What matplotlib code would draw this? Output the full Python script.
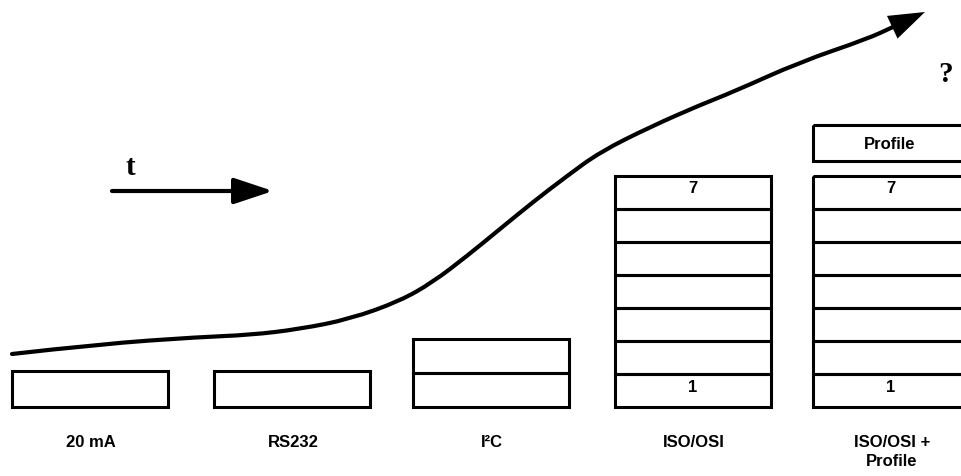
import matplotlib.pyplot as plt
from matplotlib.patches import Rectangle, PathPatch
from matplotlib.path import Path

# stacks: label, number of layers, extra "Profile" box on top
stack_labels = ['20 mA', 'RS232', 'I²C', 'ISO/OSI', 'ISO/OSI +\nProfile']
stack_layers = [1, 1, 2, 7, 7]
stack_profile = [False, False, False, False, True]
layer_numbers = {3: ('7', '1'), 4: ('7', '1')}

# trend curve (pixel coords, y down)
curve_x = [12, 100, 200, 250, 300, 350, 400, 433, 467, 500, 533, 567, 600,
           650, 700, 733, 800, 867, 893]
curve_y = [355, 345, 338, 336, 330, 320, 302, 283, 257, 230, 203, 177, 153,
           128, 106, 93, 63, 40, 28]

W, H = 961, 477
fig = plt.figure(figsize=(W / 100, H / 100), dpi=100)
ax = fig.add_axes([0, 0, 1, 1])
ax.set_xlim(0, W)
ax.set_ylim(H, 0)
ax.axis('off')

lefts = [12, 214, 413, 615, 813]
box_w = 156
bottom = 408
layer_h = [36, 36, 34, 33, 33]
lw = 2.2
sans = ['Liberation Sans', 'DejaVu Sans']
serif = ['Liberation Serif', 'DejaVu Serif']

for i, (lab, n) in enumerate(zip(stack_labels, stack_layers)):
    x0 = lefts[i]
    h = layer_h[i]
    for k in range(n):
        y_top = bottom - (k + 1) * h
        ax.add_patch(Rectangle((x0, y_top), box_w, h, fill=False,
                               ec='black', lw=lw, joinstyle='miter'))
    if i in layer_numbers:
        top_num, bot_num = layer_numbers[i]
        cx = x0 + box_w / 2
        ax.text(cx, bottom - n * h + 12, top_num, ha='center', va='center',
                fontsize=12, fontweight='bold', family=sans)
        ax.text(cx, bottom - 0.5 * h - 4, bot_num, ha='center', va='center',
                fontsize=12, fontweight='bold', family=sans)
    if stack_profile[i]:
        ax.add_patch(Rectangle((x0, 126), box_w, 36, fill=False,
                               ec='black', lw=lw, joinstyle='miter'))
        ax.text(x0 + box_w / 2 - 1, 145, 'Profile', ha='center', va='center',
                fontsize=12, fontweight='bold', family=sans)
    ax.text(x0 + box_w / 2 + 1, 435, lab,
            ha='center', va='top', fontsize=12, fontweight='bold',
            family=sans, linespacing=1.35)

# growth curve, smoothed with quadratic segments through the traced points
pts = list(zip(curve_x, curve_y))
verts = [pts[0]]
codes = [Path.MOVETO]
for k in range(1, len(pts) - 1):
    mid = ((pts[k][0] + pts[k + 1][0]) / 2, (pts[k][1] + pts[k + 1][1]) / 2)
    verts += [pts[k], mid]
    codes += [Path.CURVE3, Path.CURVE3]
verts.append(pts[-1])
codes.append(Path.LINETO)
ax.add_patch(PathPatch(Path(verts, codes), fill=False, ec='black', lw=3,
                       capstyle='round', joinstyle='round'))
ax.annotate('', xy=(925, 13), xytext=(curve_x[-2], curve_y[-2]),
            arrowprops=dict(arrowstyle='-|>,head_length=1.3,head_width=0.45',
                            mutation_scale=20, color='black', lw=0,
                            shrinkA=0, shrinkB=0))

# time arrow
ax.annotate('', xy=(273, 192), xytext=(112, 192),
            arrowprops=dict(arrowstyle='-|>,head_length=1.2,head_width=0.4',
                            mutation_scale=20, color='black', lw=3,
                            shrinkA=0, shrinkB=0))
ax.text(130, 168, 't', ha='center', va='center', fontsize=21,
        fontweight='bold', family=serif)
ax.text(945, 75, '?', ha='center', va='center', fontsize=21,
        fontweight='bold', family=serif)

fig.savefig('out.png', dpi=100)
